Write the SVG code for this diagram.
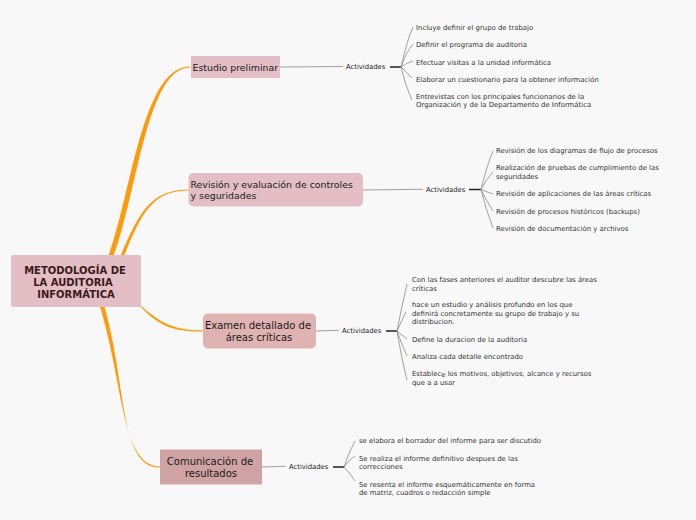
<svg xmlns="http://www.w3.org/2000/svg" width="696" height="520" viewBox="0 0 696 520">
<style>
.bg{fill:#f8f8f8}
.root{fill:#e3bec4}
.n1{fill:#e3bfc5}
.n3{fill:#e0b3b3}
.n4{fill:#cfa3a4}
.rt{font-family:"DejaVu Sans",Verdana,sans-serif;font-size:10px;font-weight:bold;fill:#3b1a1a;text-anchor:middle}
.bt{font-family:"DejaVu Sans",Verdana,sans-serif;font-size:9.4px;fill:#1a1a1a}
.bt2{font-family:"DejaVu Sans",Verdana,sans-serif;font-size:10px;fill:#1a1a1a;text-anchor:middle}
.act{font-family:"DejaVu Sans",Verdana,sans-serif;font-size:6.8px;fill:#222}
.it{font-family:"DejaVu Sans",Verdana,sans-serif;font-size:6.9px;fill:#333}
.or{fill:#ff9a0a}
.gl{stroke:#a0a0a0;stroke-width:1.1;fill:none}
.bl{stroke:#222;stroke-width:1.5;fill:none}
.fan{stroke:#8a8a8a;stroke-width:0.8;fill:none}
</style>
<rect class="bg" x="0" y="0" width="696" height="520"/>
<g id="connectors">
<path class="or" d="M108.5,256 C132,190 143,66.4 190,66.4 L190,67.6 C147,67.6 138,190 113.5,256 Z"/>
<path class="or" d="M120.5,256 C139,212 151,189.4 189,189.4 L189,190.6 C153,190.6 142,212 124,256 Z"/>
<path class="or" d="M139,304 C161,324 175,330.4 203,330.4 L203,331.6 C174,331.6 160,327 140.5,306.5 Z"/>
<path class="or" d="M100,307 C124,385 121,466.4 160,466.4 L160,467.6 C119,467.6 127,385 104.5,307 Z"/>
<path class="gl" d="M280,67 L343,66.5"/>
<path class="gl" d="M363,190 L423,189.2"/>
<path class="gl" d="M316,331 L339,330.3"/>
<path class="gl" d="M262,467 L286,466.3"/>
<path class="bl" d="M390,67 L401,67"/>
<path class="bl" d="M469,189.5 L481,189.5"/>
<path class="bl" d="M386,331 L397,331"/>
<path class="bl" d="M333,467 L344,467"/>
<path class="fan" d="M401,67 Q407,40 413,27"/>
<path class="fan" d="M401,67 Q406,52 413,44"/>
<path class="fan" d="M401,67 Q406,63 413,61"/>
<path class="fan" d="M401,67 Q406,72 412,78"/>
<path class="fan" d="M401,67 Q405,85 412,100"/>
<path class="fan" d="M481,189.5 Q487,165 493,151"/>
<path class="fan" d="M481,189.5 Q487,178 493,172"/>
<path class="fan" d="M481,189.5 Q487,192 493,194"/>
<path class="fan" d="M481,189.5 Q486,200 493,211"/>
<path class="fan" d="M481,189.5 Q486,210 493,228"/>
<path class="fan" d="M397,331 Q402,305 407,284"/>
<path class="fan" d="M397,331 Q402,320 406,312"/>
<path class="fan" d="M397,331 Q402,335 407,339"/>
<path class="fan" d="M397,331 Q402,345 407,356"/>
<path class="fan" d="M397,331 Q402,360 407,380"/>
<path class="fan" d="M344,467 Q349,452 355,441"/>
<path class="fan" d="M344,467 Q349,460 355,456"/>
<path class="fan" d="M344,467 Q349,472 355,481"/>
</g>
<g id="root">
<rect class="root" x="11" y="255" width="130" height="52" rx="2"/>
<text class="rt" x="75" y="273.5">METODOLOGÍA DE</text>
<text class="rt" x="73" y="285.5">LA AUDITORIA</text>
<text class="rt" x="76" y="297.5">INFORMÁTICA</text>
</g>
<g id="n-estudio">
<rect class="n1" x="191" y="56" width="89" height="22"/>
<text class="bt" x="192.5" y="71">Estudio preliminar</text>
</g>
<g id="n-revision">
<rect class="n1" x="188.5" y="173" width="174.5" height="33.5" rx="5"/>
<text class="bt" x="190.5" y="188">Revisión y evaluación de controles</text>
<text class="bt" x="190.5" y="199">y seguridades</text>
</g>
<g id="n-examen">
<rect class="n3" x="203" y="313.5" width="113" height="35" rx="5"/>
<text class="bt2" x="258" y="329">Examen detallado de</text>
<text class="bt2" x="259" y="341">áreas críticas</text>
</g>
<g id="n-comunicacion">
<rect class="n4" x="160" y="449.5" width="102" height="35"/>
<text class="bt2" x="210" y="465">Comunicación de</text>
<text class="bt2" x="211" y="477">resultados</text>
</g>
<g id="a1">
<text class="act" x="346" y="69">Actividades</text>
</g>
<g id="a2">
<text class="act" x="426" y="192">Actividades</text>
</g>
<g id="a3">
<text class="act" x="342" y="333">Actividades</text>
</g>
<g id="a4">
<text class="act" x="289" y="469">Actividades</text>
</g>
<g id="i1">
<text class="it" x="416" y="30">Incluye definir el grupo de trabajo</text>
<text class="it" x="416" y="47">Definir el programa de auditoria</text>
<text class="it" x="416" y="64.5">Efectuar visitas a la unidad informática</text>
<text class="it" x="416" y="81.5">Elaborar un cuestionario para la obtener información</text>
<text class="it" x="416" y="98.5">Entrevistas con los principales funcionarios de la</text>
<text class="it" x="416" y="107">Organización y de la Departamento de Informática</text>
</g>
<g id="i2">
<text class="it" x="496" y="152.5">Revisión de los diagramas de flujo de procesos</text>
<text class="it" x="496" y="170">Realización de pruebas de cumplimiento de las</text>
<text class="it" x="496" y="178.5">seguridades</text>
<text class="it" x="496" y="195.5">Revisión de aplicaciones de las áreas críticas</text>
<text class="it" x="496" y="213.5">Revisión de procesos históricos (backups)</text>
<text class="it" x="496" y="230.5">Revisión de documentación y archivos</text>
</g>
<g id="i3">
<text class="it" x="412" y="282">Con las fases anteriores el auditor descubre las áreas</text>
<text class="it" x="412" y="290.5">críticas</text>
<text class="it" x="412" y="307">hace un estudio y análisis profundo en los que</text>
<text class="it" x="412" y="315.5">definirá concretamente su grupo de trabajo y su</text>
<text class="it" x="412" y="324">distribucion.</text>
<text class="it" x="412" y="341.5">Define la duracion de la auditoria</text>
<text class="it" x="412" y="358.5">Analiza cada detalle encontrado</text>
<text class="it" x="412" y="376">Establec<tspan dy="1.2">e</tspan><tspan dy="-1.2"> los motivos, objetivos, alcance y recursos</tspan></text>
<text class="it" x="412" y="384.5">que a a usar</text>
</g>
<g id="i4">
<text class="it" x="359" y="442.5">se elabora el borrador del informe para ser discutido</text>
<text class="it" x="359" y="460.5">Se realiza el informe definitivo despues de las</text>
<text class="it" x="359" y="469">correcciones</text>
<text class="it" x="359" y="486.5">Se resenta el informe esquemáticamente en forma</text>
<text class="it" x="359" y="495">de matriz, cuadros o redacción simple</text>
</g>
</svg>
